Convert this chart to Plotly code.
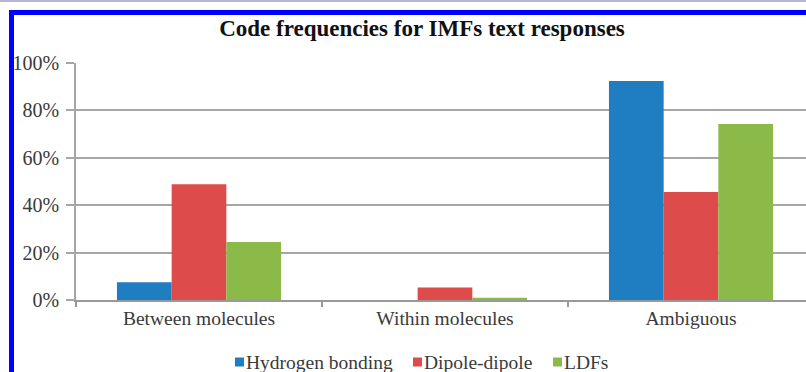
import plotly.graph_objects as go

categories = ["Between molecules", "Within molecules", "Ambiguous"]
series_names = ["Hydrogen bonding", "Dipole-dipole", "LDFs"]
hydrogen_bonding = [0.075, 0.0, 0.924]
dipole_dipole = [0.488, 0.053, 0.456]
ldfs = [0.245, 0.01, 0.743]
y_ticks = [0, 0.2, 0.4, 0.6, 0.8, 1.0]
y_tick_labels = ["0%", "20%", "40%", "60%", "80%", "100%"]

colors = ["#1f7dc2", "#de4b4b", "#8cba48"]

W, H = 806, 372
L, R, T, B = 76, 0, 63, 72
pw, ph = W - L - R, H - T - B

def px(x):
    return (x - L) / pw

def py(y):
    return (H - B - y) / ph

font_family = "Liberation Serif, Times New Roman, serif"
txt = "#3a3a3a"

fig = go.Figure()
for name, vals, c in zip(series_names, [hydrogen_bonding, dipole_dipole, ldfs], colors):
    fig.add_bar(name=name, x=categories, y=vals, marker_color=c, marker_line_width=0, showlegend=False)

shapes = [
    dict(type="rect", xref="paper", yref="paper", x0=px(9), x1=px(14), y0=py(10), y1=py(380),
         fillcolor="#0000ff", line_width=0, layer="above"),
    dict(type="rect", xref="paper", yref="paper", x0=px(9), x1=px(810), y0=py(10), y1=py(15),
         fillcolor="#0000ff", line_width=0, layer="above"),
    dict(type="rect", xref="paper", yref="paper", x0=px(-2), x1=px(810), y0=py(0), y1=py(2),
         fillcolor="#b4b4d6", line_width=0, layer="above"),
]

# manual legend: markers + labels
legend_marker_x = [235, 413, 553]
annotations = []
for name, c, mx in zip(series_names, colors, legend_marker_x):
    shapes.append(dict(type="rect", xref="paper", yref="paper", x0=px(mx), x1=px(mx + 9),
                       y0=py(366.5), y1=py(357.5), fillcolor=c, line_width=0))
    annotations.append(dict(text=name, xref="paper", yref="paper", x=px(mx + 9), y=py(362),
                            xanchor="left", yanchor="middle", showarrow=False,
                            font=dict(family=font_family, size=19.5, color=txt)))

fig.update_layout(
    width=W, height=H,
    margin=dict(l=L, r=R, t=T, b=B),
    paper_bgcolor="white", plot_bgcolor="white",
    barmode="group", bargap=0.333, bargroupgap=0,
    font=dict(family=font_family, size=19.5, color=txt),
    title=dict(text="<b>Code frequencies for IMFs text responses</b>", xref="container", x=422 / W,
               xanchor="center", y=1 - 28 / H, yanchor="middle",
               font=dict(family=font_family, size=23, color="#111111")),
    showlegend=False,
    xaxis=dict(range=[-0.5, -0.5 + pw / 246], showgrid=False, showline=True, linecolor="#999999", linewidth=1.5,
               ticks="outside", tickson="boundaries", ticklen=5, tickcolor="#999999", tickwidth=1.5,
               tickfont=dict(family=font_family, size=19.5, color=txt)),
    yaxis=dict(range=[0, 1], tickvals=y_ticks, ticktext=y_tick_labels, showgrid=True, gridcolor="#a6a6a6",
               gridwidth=1.5, showline=True, linecolor="#a6a6a6", linewidth=1.5, ticks="outside", ticklen=8,
               tickcolor="#a6a6a6", tickwidth=1.5, zeroline=False, ticklabelstandoff=3,
               tickfont=dict(family=font_family, size=20, color=txt)),
    shapes=shapes,
    annotations=annotations,
)

fig.write_html("out.html", config={"displayModeBar": False},
               post_script="document.body.style.margin='0px';document.body.style.overflow='hidden';")
